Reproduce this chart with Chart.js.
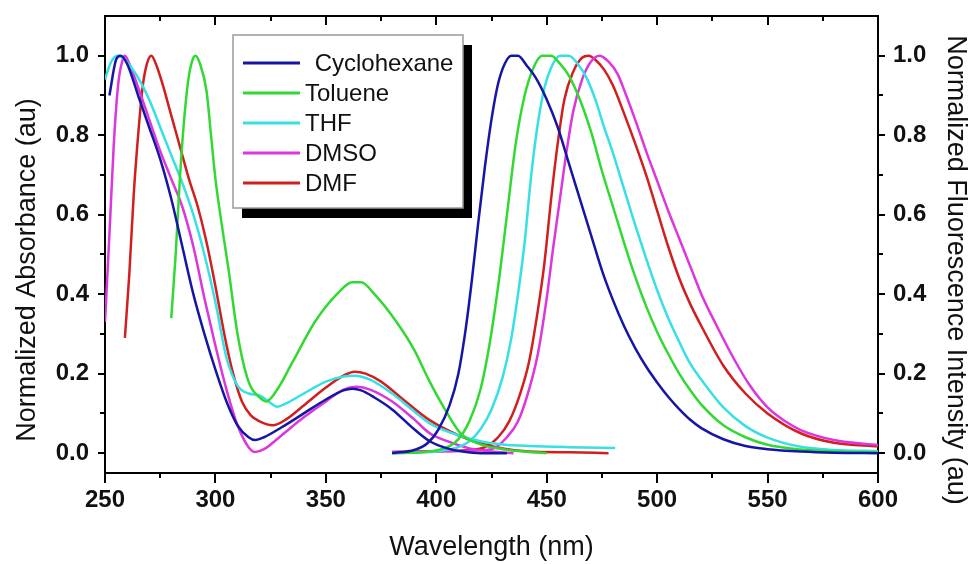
<!DOCTYPE html>
<html>
<head>
<meta charset="utf-8">
<script src="https://cdn.jsdelivr.net/npm/chart.js@4.4.1/dist/chart.umd.min.js"></script>
<style>
  html, body { margin: 0; padding: 0; background: #fff; }
  #wrap { width: 979px; height: 564px; }
</style>
</head>
<body>
<div id="wrap"><canvas id="spectra" width="979" height="564"></canvas></div>
<script>
// legend order
const solvents = ['Cyclohexane', 'Toluene', 'THF', 'DMSO', 'DMF'];
const solventColors = ['#1616a6', '#33d933', '#36e0e4', '#dc36dc', '#d21e1e'];

// absorption spectra  [wavelength (nm), normalized absorbance]
const cyclohexaneAbs = [[252,0.9],[255,0.99],[257,1.0],[260,0.98],[265,0.9],[270,0.82],[275,0.74],[280,0.64],[285,0.52],[290,0.40],[295,0.3],[300,0.21],[305,0.13],[310,0.07],[315,0.04],[318,0.033],[322,0.04],[330,0.065],[340,0.1],[350,0.135],[358,0.158],[362,0.162],[366,0.158],[372,0.14],[380,0.11],[390,0.06],[397,0.03],[405,0.012],[412,0.004],[420,0.0],[432,0.0]];
const tolueneAbs = [[280,0.34],[282,0.5],[284,0.7],[286,0.85],[288,0.95],[290,0.995],[291,1.0],[293,0.98],[296,0.91],[298,0.8],[300,0.69],[303,0.57],[306,0.46],[310,0.3],[315,0.18],[320,0.14],[323,0.13],[328,0.16],[335,0.23],[345,0.33],[355,0.4],[362,0.43],[366,0.43],[372,0.4],[382,0.33],[390,0.26],[397,0.18],[405,0.1],[411,0.05],[420,0.022],[430,0.01],[442,0.003],[450,0.0]];
const thfAbs = [[250,0.94],[252,0.975],[254,0.995],[256,1.0],[258,0.995],[262,0.97],[266,0.935],[270,0.89],[275,0.82],[280,0.75],[285,0.68],[290,0.6],[295,0.5],[300,0.38],[305,0.24],[310,0.17],[315,0.15],[320,0.145],[324,0.13],[328,0.117],[332,0.125],[340,0.15],[350,0.18],[358,0.193],[363,0.195],[370,0.185],[380,0.15],[390,0.105],[397,0.075],[410,0.045],[420,0.03],[430,0.022],[442,0.018],[460,0.015],[481,0.013]];
const dmsoAbs = [[250,0.33],[252,0.55],[254,0.78],[256,0.93],[258,0.99],[259,1.0],[261,0.98],[265,0.92],[270,0.84],[275,0.76],[280,0.69],[285,0.62],[290,0.52],[295,0.39],[300,0.27],[305,0.16],[310,0.07],[315,0.015],[318,0.003],[322,0.01],[330,0.045],[340,0.09],[350,0.13],[358,0.16],[364,0.167],[370,0.16],[380,0.13],[390,0.085],[397,0.05],[405,0.03],[415,0.012],[425,0.004],[435,0.0]];
const dmfAbs = [[259,0.29],[261,0.45],[263,0.65],[265,0.8],[267,0.92],[269,0.98],[271,1.0],[273,0.98],[276,0.93],[280,0.85],[284,0.77],[288,0.69],[292,0.62],[296,0.53],[300,0.42],[304,0.3],[308,0.2],[312,0.13],[316,0.095],[320,0.08],[326,0.07],[332,0.085],[340,0.12],[350,0.165],[358,0.195],[363,0.205],[368,0.2],[375,0.18],[385,0.135],[397,0.083],[410,0.045],[420,0.025],[430,0.012],[442,0.004],[460,0.002],[478,0.0]];

// fluorescence spectra  [wavelength (nm), normalized intensity]
const cyclohexaneFl = [[380,0.0],[390,0.008],[396,0.025],[401,0.06],[406,0.12],[410,0.2],[413,0.3],[416,0.43],[419,0.58],[422,0.72],[425,0.84],[428,0.93],[431,0.98],[434,1.0],[437,1.0],[441,0.975],[445,0.945],[450,0.89],[455,0.82],[460,0.73],[465,0.64],[470,0.55],[475,0.46],[480,0.385],[485,0.32],[490,0.265],[495,0.218],[500,0.178],[505,0.142],[510,0.111],[515,0.084],[520,0.063],[530,0.035],[540,0.018],[550,0.01],[565,0.004],[580,0.001],[600,0.0]];
const tolueneFl = [[380,0.0],[395,0.003],[405,0.015],[410,0.035],[415,0.08],[420,0.16],[424,0.27],[428,0.42],[432,0.6],[436,0.78],[440,0.9],[444,0.97],[448,1.0],[452,1.0],[456,0.98],[460,0.95],[465,0.89],[470,0.81],[475,0.71],[480,0.62],[485,0.53],[490,0.445],[495,0.37],[500,0.305],[505,0.25],[510,0.2],[515,0.158],[520,0.122],[530,0.07],[540,0.04],[550,0.021],[565,0.009],[580,0.004],[600,0.002]];
const thfFl = [[380,0.0],[400,0.004],[410,0.015],[415,0.03],[420,0.06],[425,0.11],[430,0.19],[434,0.29],[437,0.4],[440,0.53],[443,0.7],[446,0.83],[449,0.92],[452,0.97],[456,1.0],[460,1.0],[464,0.98],[468,0.945],[472,0.89],[476,0.82],[480,0.755],[485,0.665],[490,0.575],[495,0.49],[500,0.41],[505,0.34],[510,0.28],[515,0.225],[520,0.185],[530,0.115],[540,0.068],[550,0.039],[565,0.016],[580,0.008],[600,0.005]];
const dmsoFl = [[380,0.003],[400,0.004],[415,0.006],[425,0.01],[432,0.04],[437,0.08],[442,0.16],[446,0.25],[450,0.39],[453,0.52],[456,0.64],[459,0.76],[462,0.86],[466,0.94],[470,0.985],[474,1.0],[478,0.985],[482,0.955],[486,0.9],[490,0.84],[495,0.76],[500,0.685],[505,0.61],[510,0.54],[515,0.47],[520,0.4],[527,0.32],[535,0.235],[542,0.17],[550,0.115],[558,0.08],[565,0.058],[580,0.033],[600,0.02]];
const dmfFl = [[380,0.003],[400,0.005],[415,0.008],[422,0.015],[428,0.04],[433,0.08],[438,0.15],[442,0.23],[446,0.36],[449,0.48],[452,0.64],[455,0.78],[458,0.89],[462,0.96],[466,0.995],[469,1.0],[472,0.99],[476,0.965],[480,0.925],[485,0.855],[490,0.78],[495,0.7],[500,0.61],[505,0.52],[510,0.44],[515,0.375],[520,0.32],[530,0.22],[540,0.15],[550,0.1],[565,0.05],[580,0.026],[600,0.017]];

const absSpectra = [cyclohexaneAbs, tolueneAbs, thfAbs, dmsoAbs, dmfAbs];
const flSpectra = [cyclohexaneFl, tolueneFl, thfFl, dmsoFl, dmfFl];

// axis ticks (majors get labels)
const xTicks = [250, 275, 300, 325, 350, 375, 400, 425, 450, 475, 500, 525, 550, 575, 600];
const xMajor = [250, 300, 350, 400, 450, 500, 550, 600];
const yTicks = [0, 0.1, 0.2, 0.3, 0.4, 0.5, 0.6, 0.7, 0.8, 0.9, 1.0];
const yMajor = [0, 0.2, 0.4, 0.6, 0.8, 1.0];

const FONT = '"Liberation Sans", Arial, sans-serif';

function isMajor(list, v) {
  return list.some(m => Math.abs(m - v) < 1e-6);
}

const datasets = [];
solvents.forEach((name, i) => {
  datasets.push({
    label: name + ' abs',
    data: absSpectra[i].map(p => ({ x: p[0], y: p[1] })),
    borderColor: solventColors[i],
    borderWidth: 2.5,
    pointRadius: 0,
    cubicInterpolationMode: 'monotone',
    xAxisID: 'x',
    yAxisID: 'y'
  });
  datasets.push({
    label: name + ' fl',
    data: flSpectra[i].map(p => ({ x: p[0], y: p[1] })),
    borderColor: solventColors[i],
    borderWidth: 2.5,
    pointRadius: 0,
    cubicInterpolationMode: 'monotone',
    xAxisID: 'x',
    yAxisID: 'y2'
  });
});

// tick marks, axis titles and the boxed legend
const decorations = {
  id: 'decorations',
  afterDraw(chart) {
    const ctx = chart.ctx;
    const { x, y } = chart.scales;
    const area = chart.chartArea;
    ctx.save();
    ctx.strokeStyle = '#000';
    ctx.lineWidth = 2;
    ctx.beginPath();
    xTicks.forEach(v => {
      const px = Math.round(x.getPixelForValue(v));
      const major = isMajor(xMajor, v);
      ctx.moveTo(px, area.bottom);
      ctx.lineTo(px, area.bottom + (major ? 10 : 5));
      ctx.moveTo(px, area.top);
      ctx.lineTo(px, area.top + (major ? 9 : 5));
    });
    yTicks.forEach(v => {
      const py = Math.round(y.getPixelForValue(v));
      const major = isMajor(yMajor, v);
      ctx.moveTo(area.left, py);
      ctx.lineTo(area.left - (major ? 7 : 5), py);
      ctx.moveTo(area.right, py);
      ctx.lineTo(area.right + (major ? 7 : 5), py);
    });
    ctx.stroke();

    // axis titles
    ctx.fillStyle = '#111';
    ctx.font = '27px ' + FONT;
    ctx.textAlign = 'center';
    ctx.textBaseline = 'middle';
    ctx.fillText('Wavelength (nm)', (area.left + area.right) / 2, 548);
    ctx.save();
    ctx.translate(28, 270);
    ctx.rotate(-Math.PI / 2);
    ctx.fillText('Normalized Absorbance (au)', 0, 0);
    ctx.restore();
    ctx.save();
    ctx.translate(955, 270);
    ctx.rotate(Math.PI / 2);
    ctx.fillText('Normalized Fluorescence Intensity (au)', 0, 0);
    ctx.restore();

    // legend box with a black drop shadow
    const bx = 233, by = 35, bw = 230, bh = 173;
    ctx.fillStyle = '#000';
    ctx.fillRect(bx + 9, by + 10, bw, bh);
    ctx.fillStyle = '#fff';
    ctx.fillRect(bx, by, bw, bh);
    ctx.strokeStyle = '#9a9a9a';
    ctx.lineWidth = 1.5;
    ctx.strokeRect(bx, by, bw, bh);
    ctx.font = '24px ' + FONT;
    ctx.textAlign = 'left';
    solvents.forEach((name, i) => {
      const ly = 63 + i * 30;
      ctx.strokeStyle = solventColors[i];
      ctx.lineWidth = 3;
      ctx.beginPath();
      ctx.moveTo(243, ly);
      ctx.lineTo(300, ly);
      ctx.stroke();
      ctx.fillStyle = '#111';
      ctx.fillText(i === 0 ? ' ' + name : name, i === 0 ? 308 : 305, ly + 1);
    });
    ctx.restore();
  }
};

const tickFont = { family: FONT, size: 24, weight: 'bold' };
const frame = { display: true, color: '#000', width: 2 };

function noPadding(s) {
  s.paddingTop = 0;
  s.paddingBottom = 0;
  s.paddingLeft = 0;
  s.paddingRight = 0;
}

new Chart(document.getElementById('spectra'), {
  type: 'line',
  data: { datasets },
  options: {
    responsive: false,
    animation: false,
    devicePixelRatio: 1,
    layout: { padding: 0 },
    plugins: { legend: { display: false }, tooltip: { enabled: false } },
    scales: {
      x: {
        type: 'linear', position: 'bottom', min: 250, max: 600,
        afterBuildTicks: s => { s.ticks = xTicks.map(v => ({ value: v })); },
        afterFit: s => { s.height = 91; noPadding(s); },
        ticks: {
          autoSkip: false, maxRotation: 0, padding: 13, color: '#111', font: tickFont,
          callback: v => isMajor(xMajor, v) ? String(v) : ''
        },
        grid: { display: false, drawTicks: false },
        border: frame
      },
      x2: {
        type: 'linear', position: 'top', min: 250, max: 600,
        afterFit: s => { s.height = 16; noPadding(s); },
        ticks: { display: false },
        grid: { display: false, drawTicks: false },
        border: frame
      },
      y: {
        type: 'linear', position: 'left', min: -0.05, max: 1.1,
        afterBuildTicks: s => { s.ticks = yTicks.map(v => ({ value: v })); },
        afterFit: s => { s.width = 105; noPadding(s); },
        ticks: {
          padding: 16, color: '#111', font: tickFont,
          callback: v => isMajor(yMajor, v) ? v.toFixed(1) : ''
        },
        grid: { display: false, drawTicks: false },
        border: frame
      },
      y2: {
        type: 'linear', position: 'right', min: -0.05, max: 1.1,
        afterBuildTicks: s => { s.ticks = yTicks.map(v => ({ value: v })); },
        afterFit: s => { s.width = 101; noPadding(s); },
        ticks: {
          padding: 15, color: '#111', font: tickFont,
          callback: v => isMajor(yMajor, v) ? v.toFixed(1) : ''
        },
        grid: { display: false, drawTicks: false },
        border: frame
      }
    }
  },
  plugins: [decorations]
});
</script>
</body>
</html>
